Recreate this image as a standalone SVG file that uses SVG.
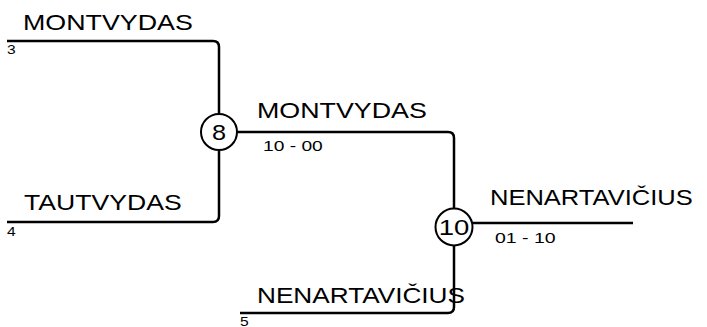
<svg xmlns="http://www.w3.org/2000/svg" width="707" height="327" viewBox="0 0 707 327">
<style>
.ln{fill:none;stroke:#000;stroke-width:2.5;stroke-linejoin:round}
.c{fill:#fff;stroke:#000;stroke-width:2}
.big{font-family:"Liberation Sans",Arial,sans-serif;font-size:22px;fill:#000}
.sc{font-family:"Liberation Sans",Arial,sans-serif;font-size:15px;fill:#000}
.sd{font-family:"Liberation Sans",Arial,sans-serif;font-size:12px;fill:#000}
.cn{font-family:"Liberation Sans",Arial,sans-serif;font-size:22px;fill:#000;text-anchor:middle}
</style>
<rect width="707" height="327" fill="#fff"/>
<g id="connectors">
<path class="ln" d="M7 41 H213 Q219 41 219 47 V132"/>
<path class="ln" d="M7 222 H213 Q219 222 219 216 V132"/>
<path class="ln" d="M219 132 H448 Q454 132 454 138 V227"/>
<path class="ln" d="M240 313 H448 Q454 313 454 307 V227"/>
<path class="ln" d="M454 223 H633"/>
</g>
<g id="p3">
<text class="big" transform="matrix(1.22,0,0,1,23,30)">MONTVYDAS</text>
<text class="sd" transform="matrix(1.3,0,0,1,7,54)">3</text>
</g>
<g id="p4">
<text class="big" transform="matrix(1.21,0,0,1,24,210)">TAUTVYDAS</text>
<text class="sd" transform="matrix(1.3,0,0,1,7,236)">4</text>
</g>
<g id="p5">
<text class="big" transform="matrix(1.19,0,0,1,257,303)">NENARTAVIČIUS</text>
<text class="sd" transform="matrix(1.3,0,0,1,240,326)">5</text>
</g>
<g id="m8">
<circle class="c" cx="219" cy="132" r="18"/>
<text class="cn" transform="matrix(1.15,0,0,1,219,140)">8</text>
<text class="big" transform="matrix(1.22,0,0,1,257,118)">MONTVYDAS</text>
<text class="sc" transform="matrix(1.28,0,0,1,263,151)">10 - 00</text>
</g>
<g id="m10">
<circle class="c" cx="454" cy="227" r="18.5"/>
<text class="cn" transform="matrix(1.25,0,0,1,454,235)">10</text>
<text class="big" transform="matrix(1.16,0,0,1,490,205)">NENARTAVIČIUS</text>
<text class="sc" transform="matrix(1.3,0,0,1,495,243)">01 - 10</text>
</g>
</svg>
